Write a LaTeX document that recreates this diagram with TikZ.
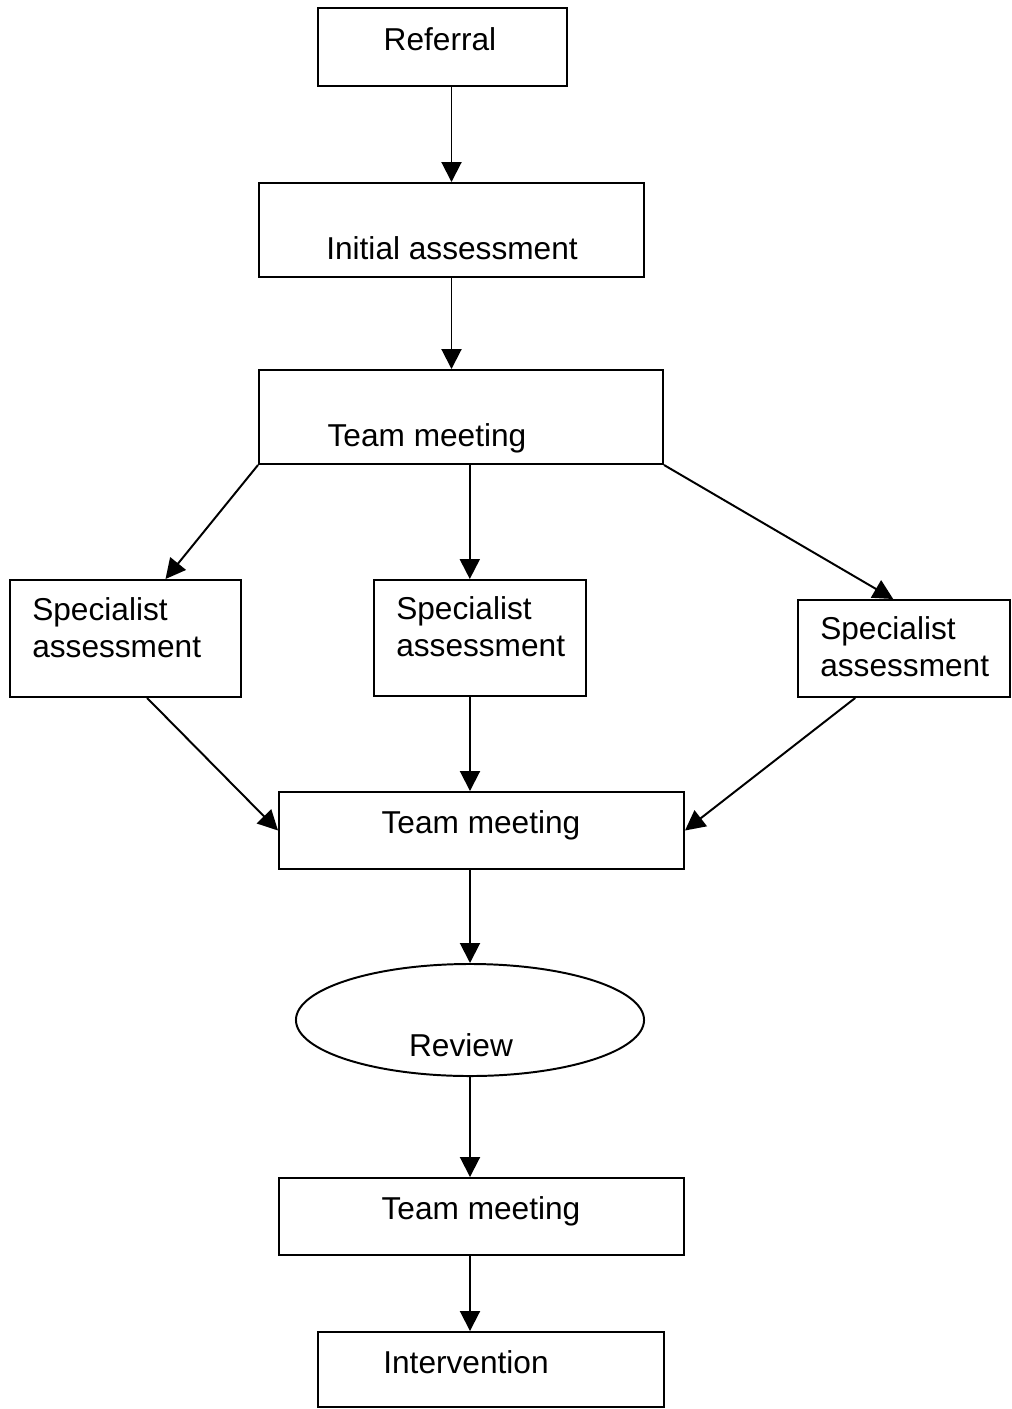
\documentclass[tikz,border=0pt]{standalone}
\usepackage{fontspec}
\setmainfont{Liberation Sans}
\usepackage{tikz}
\usetikzlibrary{positioning,fit,shapes.geometric,arrows.meta}

\begin{document}
\begin{tikzpicture}[x=0.025cm, y=-0.025cm,
                boxnode/.style={rectangle, draw=black, line width=1.4pt, inner sep=0pt},
                ovalnode/.style={ellipse, draw=black, line width=1.4pt, minimum width=8.7cm, minimum height=2.8cm, inner sep=0pt},
                labeltext/.style={font=\fontsize{22.5}{26.5}\selectfont, inner sep=0pt},
                arrow/.style={line width=1.4pt, -{Triangle[length=0.5cm,width=0.5cm]}}
                ]
                \useasboundingbox (0,0) rectangle (1012,1409);
                % boxes
                \node[boxnode, fit={(318,8) (567,86)}] (referral) {};
                \node[boxnode, fit={(259,183) (644,277)}] (initial) {};
                \node[boxnode, fit={(259,370) (663,464)}] (meetingone) {};
                \node[boxnode, fit={(10,580) (241,697)}] (specone) {};
                \node[boxnode, fit={(374,580) (586,696)}] (spectwo) {};
                \node[boxnode, fit={(798,600) (1010,697)}] (specthree) {};
                \node[boxnode, fit={(279,792) (684,869)}] (meetingtwo) {};
                \node[ovalnode] (review) at (470,1020) {};
                \node[boxnode, fit={(279,1178) (684,1255)}] (meetingthree) {};
                \node[boxnode, fit={(318,1332) (664,1407)}] (intervention) {};
                % texts
                \node[labeltext, anchor=base] (referraltext) at (440,50) {Referral};
                \node[labeltext, anchor=base] (initialtext) at (452,259) {Initial assessment};
                \node[labeltext, anchor=base] (meetingonetext) at (427,446) {Team meeting};
                \node[labeltext, align=left, anchor=north west] (speconetext) at (32,597) {Specialist\\assessment};
                \node[labeltext, align=left, anchor=north west] (spectwotext) at (396,596) {Specialist\\assessment};
                \node[labeltext, align=left, anchor=north west] (specthreetext) at (820,616) {Specialist\\assessment};
                \node[labeltext, anchor=base] (meetingtwotext) at (481,833) {Team meeting};
                \node[labeltext, anchor=base] (reviewtext) at (461,1056) {Review};
                \node[labeltext, anchor=base] (meetingthreetext) at (481,1219) {Team meeting};
                \node[labeltext, anchor=base] (interventiontext) at (466,1373) {Intervention};
                % connectors
                \draw[arrow] (referral.south -| initial.north) -- (initial.north);
                \draw[arrow] (initial.south) -- (initial.south |- meetingone.north);
                \draw[arrow] (meetingone.south west) -- ([xshift=1cm]specone.north);
                \draw[arrow] ([xshift=0.22cm]meetingone.south) -- ([xshift=0.22cm]meetingone.south |- spectwo.north);
                \draw[arrow] (meetingone.south east) -- ([xshift=-0.27cm]specthree.north);
                \draw[arrow] ([xshift=0.54cm]specone.south) -- (meetingtwo.west);
                \draw[arrow] ([xshift=-0.25cm]spectwo.south) -- ([xshift=-0.25cm]spectwo.south |- meetingtwo.north);
                \draw[arrow] ([xshift=-1.22cm]specthree.south) -- (meetingtwo.east);
                \draw[arrow] (review.north |- meetingtwo.south) -- (review.north);
                \draw[arrow] (review.south) -- (review.south |- meetingthree.north);
                \draw[arrow] (review.south |- meetingthree.south) -- (review.south |- intervention.north);
            \end{tikzpicture}
\end{document}
